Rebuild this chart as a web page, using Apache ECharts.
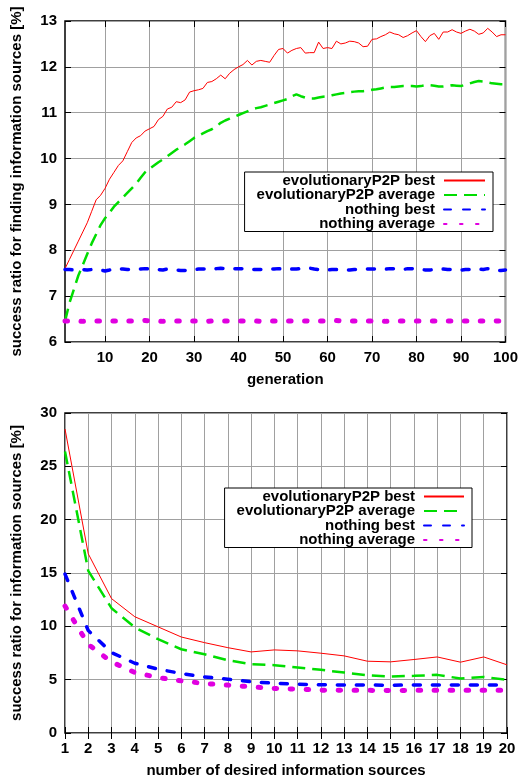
<!DOCTYPE html>
<html>
<head>
<meta charset="utf-8">
<script src="https://cdn.jsdelivr.net/npm/echarts@6/dist/echarts.min.js"></script>
<style>
  html, body { margin: 0; padding: 0; background: #fff; }
  #chart { width: 521px; height: 779px; }
</style>
</head>
<body>
<div id="chart"></div>
<script>
// top chart: success ratio per generation
var generations = [];
for (var g = 1; g <= 100; g++) generations.push(String(g));

var evoBestGen = [
  7.6, 7.8, 8.0, 8.2, 8.4, 8.6, 8.85, 9.1, 9.2, 9.35,
  9.55, 9.7, 9.85, 9.95, 10.15, 10.35, 10.45, 10.5, 10.6, 10.65,
  10.7, 10.85, 10.92, 11.08, 11.12, 11.24, 11.22, 11.28, 11.45, 11.48,
  11.5, 11.53, 11.66, 11.68, 11.74, 11.82, 11.74, 11.86, 11.94, 12.0,
  12.05, 12.14, 12.04, 12.12, 12.14, 12.12, 12.1, 12.25, 12.38, 12.4,
  12.3, 12.36, 12.4, 12.42, 12.3, 12.31, 12.31, 12.54, 12.4, 12.42,
  12.4, 12.56, 12.5, 12.52, 12.56, 12.55, 12.52, 12.44, 12.45, 12.6,
  12.61, 12.66, 12.7, 12.76, 12.72, 12.7, 12.64, 12.68, 12.74, 12.79,
  12.66, 12.55, 12.68, 12.73, 12.6, 12.76, 12.76, 12.81, 12.76, 12.73,
  12.78, 12.82, 12.78, 12.71, 12.74, 12.84, 12.76, 12.66, 12.7, 12.7
];
var evoAvgGen = [
  6.45, 6.85, 7.15, 7.45, 7.68, 7.92, 8.15, 8.35, 8.55, 8.7,
  8.82, 8.95, 9.05, 9.15, 9.25, 9.35, 9.45, 9.58, 9.7, 9.78,
  9.85, 9.92, 9.98, 10.05, 10.12, 10.19, 10.26, 10.31, 10.38, 10.45,
  10.5, 10.55, 10.6, 10.64, 10.7, 10.78, 10.83, 10.87, 10.91, 10.95,
  10.99, 11.03, 11.07, 11.1, 11.12, 11.15, 11.18, 11.21, 11.24, 11.27,
  11.3, 11.36, 11.4, 11.36, 11.33, 11.31, 11.31, 11.33, 11.35, 11.36,
  11.38, 11.4, 11.42, 11.43, 11.45, 11.46, 11.47, 11.47, 11.48, 11.5,
  11.51, 11.53, 11.55, 11.56, 11.56, 11.57, 11.58, 11.58, 11.58, 11.57,
  11.58, 11.6, 11.6, 11.59, 11.57, 11.57, 11.58, 11.6, 11.59, 11.58,
  11.61, 11.64, 11.67, 11.69, 11.68, 11.66, 11.64, 11.63, 11.62, 11.62
];
var nothingBestGen = [
  7.58, 7.58, 7.57, 7.58, 7.58, 7.57, 7.58, 7.58, 7.57, 7.55,
  7.57, 7.6, 7.59, 7.59, 7.58, 7.58, 7.59, 7.59, 7.6, 7.59,
  7.59, 7.58, 7.57, 7.59, 7.58, 7.57, 7.56, 7.56, 7.57, 7.58,
  7.59, 7.59, 7.59, 7.58, 7.6, 7.61, 7.6, 7.59, 7.6, 7.6,
  7.6, 7.59, 7.58, 7.58, 7.58, 7.58, 7.59, 7.59, 7.6, 7.59,
  7.58, 7.59, 7.59, 7.6, 7.6, 7.61, 7.59, 7.58, 7.58, 7.57,
  7.58, 7.58, 7.57, 7.57, 7.57, 7.58, 7.58, 7.59, 7.59, 7.59,
  7.59, 7.59, 7.59, 7.6, 7.6, 7.59, 7.58, 7.6, 7.6, 7.59,
  7.58, 7.57, 7.57, 7.58, 7.58, 7.59, 7.58, 7.58, 7.57, 7.57,
  7.58, 7.58, 7.59, 7.59, 7.58, 7.6, 7.59, 7.56, 7.56, 7.57
];
var nothingAvgGen = [
  6.46, 6.46, 6.46, 6.46, 6.45, 6.46, 6.46, 6.46, 6.46, 6.45,
  6.46, 6.46, 6.46, 6.45, 6.46, 6.46, 6.46, 6.46, 6.47, 6.46,
  6.46, 6.46, 6.45, 6.46, 6.46, 6.46, 6.46, 6.45, 6.46, 6.46,
  6.46, 6.46, 6.45, 6.46, 6.46, 6.46, 6.46, 6.46, 6.47, 6.46,
  6.46, 6.46, 6.46, 6.46, 6.45, 6.46, 6.46, 6.46, 6.46, 6.46,
  6.46, 6.46, 6.46, 6.46, 6.46, 6.45, 6.46, 6.46, 6.46, 6.46,
  6.46, 6.47, 6.46, 6.46, 6.46, 6.46, 6.46, 6.47, 6.46, 6.46,
  6.46, 6.46, 6.45, 6.46, 6.46, 6.46, 6.46, 6.46, 6.46, 6.46,
  6.46, 6.46, 6.46, 6.46, 6.46, 6.47, 6.46, 6.46, 6.46, 6.46,
  6.46, 6.46, 6.47, 6.46, 6.46, 6.46, 6.45, 6.46, 6.46, 6.46
];

// bottom chart: success ratio per number of desired sources
var desired = ['1', '2', '3', '4', '5', '6', '7', '8', '9', '10',
  '11', '12', '13', '14', '15', '16', '17', '18', '19', '20'];
var evoBestNum = [28.5, 16.8, 12.6, 10.9, 9.95, 9.0, 8.47, 8.0, 7.6, 7.79,
  7.7, 7.48, 7.23, 6.73, 6.67, 6.89, 7.13, 6.64, 7.13, 6.39];
var evoAvgNum = [26.4, 15.2, 11.7, 9.9, 8.8, 7.85, 7.38, 6.82, 6.45, 6.36,
  6.14, 5.92, 5.67, 5.42, 5.3, 5.36, 5.45, 5.11, 5.26, 4.98];
var nothingBestNum = [14.9, 9.6, 7.54, 6.54, 5.98, 5.58, 5.26, 5.05, 4.8, 4.67,
  4.58, 4.52, 4.5, 4.5, 4.48, 4.5, 4.5, 4.5, 4.5, 4.5];
var nothingAvgNum = [11.9, 8.3, 6.67, 5.67, 5.2, 4.89, 4.64, 4.49, 4.33, 4.18,
  4.11, 4.02, 4.0, 4.0, 3.98, 4.0, 4.0, 4.0, 4.0, 4.0];

var names = ['evolutionaryP2P best', 'evolutionaryP2P average', 'nothing best', 'nothing average'];

var font = { fontFamily: 'Liberation Sans', fontWeight: 'bold', fontSize: 15, color: '#000' };
var every10 = function (idx, val) { return Number(val) % 10 === 0; };

var styles = [
  { color: '#ff0000', width: 1, type: 'solid' },
  { color: '#00dd00', width: 2.5, type: [13, 7] },
  { color: '#0000ff', width: 3.5, type: [7, 12], cap: 'round' },
  { color: '#e000e0', width: 5, type: [2.5, 13.5], cap: 'round' }
];

function mkSeries(name, k, data, axisIdx) {
  var s = styles[k];
  return {
    name: name, type: 'line', data: data,
    xAxisIndex: axisIdx, yAxisIndex: axisIdx,
    symbol: 'none', silent: true, animation: false,
    lineStyle: { color: s.color, width: s.width, type: s.type, cap: s.cap || 'butt' },
    itemStyle: { color: s.color }
  };
}

function bottomX(gridIndex, data, interval, name) {
  return {
    type: 'category', gridIndex: gridIndex, data: data, boundaryGap: false,
    name: name, nameLocation: 'middle', nameGap: 30, nameTextStyle: font,
    axisLine: { show: false },
    axisTick: { show: true, inside: true, length: 6, interval: interval, lineStyle: { color: '#000' } },
    axisLabel: Object.assign({ interval: interval, margin: 8 }, font),
    splitLine: { show: true, interval: interval, lineStyle: { color: '#a0a0a0', width: 1 } }
  };
}
function topX(gridIndex, data, interval) {
  return {
    type: 'category', gridIndex: gridIndex, data: data, boundaryGap: false, position: 'top',
    axisLine: { show: false },
    axisTick: { show: true, inside: true, length: 6, interval: interval, lineStyle: { color: '#000' } },
    axisLabel: { show: false }, splitLine: { show: false }
  };
}
function leftY(gridIndex, min, max, interval, name) {
  return {
    type: 'value', gridIndex: gridIndex, min: min, max: max, interval: interval,
    name: name, nameLocation: 'middle', nameGap: 41, nameTextStyle: font,
    axisLine: { show: false },
    axisTick: { show: true, inside: true, length: 6, lineStyle: { color: '#000' } },
    axisLabel: Object.assign({ margin: 8 }, font),
    splitLine: { show: true, lineStyle: { color: '#a0a0a0', width: 1 } }
  };
}
function rightY(gridIndex, min, max, interval) {
  return {
    type: 'value', gridIndex: gridIndex, min: min, max: max, interval: interval, position: 'right',
    axisLine: { show: false },
    axisTick: { show: true, inside: true, length: 6, lineStyle: { color: '#000' } },
    axisLabel: { show: false }, splitLine: { show: false }
  };
}

function mkLegend(right, top, itemWidth) {
  return {
    data: names, orient: 'vertical', align: 'right',
    right: right, top: top, itemWidth: itemWidth, itemHeight: 12, itemGap: -0.5,
    padding: [1, 7, 0, 12], borderColor: '#000', borderWidth: 1, backgroundColor: '#fff',
    selectedMode: false, itemStyle: { opacity: 0 },
    textStyle: Object.assign({ padding: [0, 4, 0, 0] }, font)
  };
}

var chart = echarts.init(document.getElementById('chart'));
chart.setOption({
  animation: false,
  backgroundColor: '#fff',
  grid: [
    { left: 65, top: 21, width: 442, height: 321, show: true, borderColor: '#000', borderWidth: 1.5, containLabel: false },
    { left: 65, top: 413, width: 442, height: 321, show: true, borderColor: '#000', borderWidth: 1.5, containLabel: false }
  ],
  legend: [mkLegend(28, 172, 41), mkLegend(49, 488, 40)],
  xAxis: [
    bottomX(0, generations, every10, 'generation'),
    bottomX(1, desired, 0, 'number of desired information sources'),
    topX(0, generations, every10),
    topX(1, desired, 0)
  ],
  yAxis: [
    leftY(0, 6, 13, 1, 'success ratio for finding information sources [%]'),
    leftY(1, 0, 30, 5, 'success ratio for information sources [%]'),
    rightY(0, 6, 13, 1),
    rightY(1, 0, 30, 5)
  ],
  series: [
    mkSeries(names[0], 0, evoBestGen, 0),
    mkSeries(names[1], 1, evoAvgGen, 0),
    mkSeries(names[2], 2, nothingBestGen, 0),
    mkSeries(names[3], 3, nothingAvgGen, 0),
    mkSeries(names[0], 0, evoBestNum, 1),
    mkSeries(names[1], 1, evoAvgNum, 1),
    mkSeries(names[2], 2, nothingBestNum, 1),
    mkSeries(names[3], 3, nothingAvgNum, 1)
  ]
});
</script>
</body>
</html>
